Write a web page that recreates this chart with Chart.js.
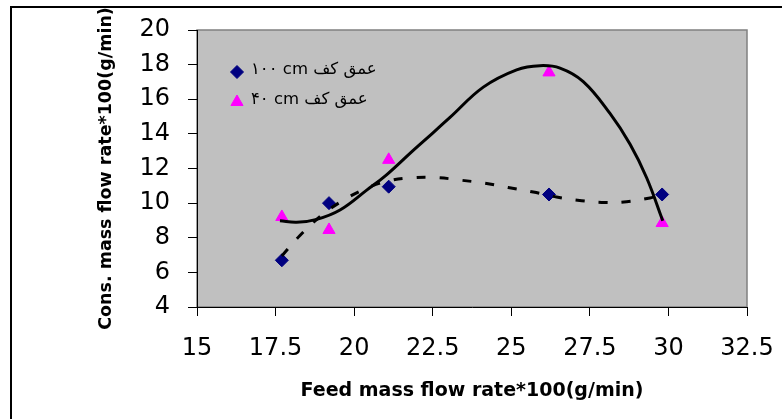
<!DOCTYPE html>
<html>
<head>
<meta charset="utf-8">
<script src="https://cdn.jsdelivr.net/npm/chart.js@4/dist/chart.umd.min.js"></script>
<style>
body { margin: 0; background: #fff; }
</style>
</head>
<body>
<canvas id="flow" width="782" height="419"></canvas>
<script>
/* Dane pomiarowe */
var feedRate = [17.7, 19.2, 21.1, 26.2, 29.8];
var cons100 = [6.7, 10.0, 10.95, 10.5, 10.5];
var cons40 = [9.2, 8.45, 12.5, 17.55, 8.85];

var label100 = '۱۰۰ cm عمق کف';
var label40 = '۴۰ cm عمق کف';
var xTitle = 'Feed mass flow rate*100(g/min)';
var yTitle = 'Cons. mass flow rate*100(g/min)';

/* Linie trendu */
var trend40X = [17.64, 18.17, 18.81, 19.55, 20.4, 21.04, 21.88, 22.5, 23.05, 24.11, 25.17, 25.91, 26.55, 27.29, 28.14, 28.78, 29.31, 29.82];
var trend40Y = [8.98, 8.89, 9.06, 9.6, 10.75, 11.65, 13.05, 14.05, 14.95, 16.7, 17.7, 17.94, 17.8, 17.02, 15.18, 13.4, 11.45, 8.98];
var trend100X = [17.7, 18.26, 18.9, 19.55, 20.32, 21.09, 21.88, 22.65, 23.37, 24.16, 24.9, 25.7, 26.44, 27.24, 27.98, 28.67, 29.41, 29.8];
var trend100Y = [6.95, 8.1, 9.2, 10.05, 10.8, 11.28, 11.47, 11.47, 11.33, 11.15, 10.9, 10.64, 10.35, 10.14, 10.04, 10.08, 10.3, 10.5];

function pts(xs, ys) {
    return xs.map(function (x, i) { return { x: x, y: ys[i] }; });
}

var font = 'DejaVu Sans';

/* Tło wykresu i ramka */
var plotBox = {
    id: 'plotBox',
    beforeDraw: function (chart) {
        var c = chart.ctx, a = chart.chartArea;
        c.save();
        c.lineWidth = 2;
        c.strokeStyle = '#000';
        c.strokeRect(11, 7, 800, 450);
        c.fillStyle = '#c0c0c0';
        c.fillRect(a.left, a.top, a.right - a.left, a.bottom - a.top);
        c.lineWidth = 1.5;
        c.strokeStyle = '#808080';
        c.strokeRect(a.left, a.top, a.right - a.left, a.bottom - a.top);
        c.restore();
    }
};

/* Legenda wewnątrz obszaru wykresu */
var innerLegend = {
    id: 'innerLegend',
    afterDatasetsDraw: function (chart) {
        var c = chart.ctx, a = chart.chartArea;
        var items = chart.data.datasets.filter(function (d) { return d.inLegend; });
        c.save();
        items.forEach(function (d, i) {
            var y = a.top + 42 + i * 30;
            c.fillStyle = d.backgroundColor;
            c.strokeStyle = d.borderColor;
            c.lineWidth = 1;
            Chart.helpers.drawPoint(c, { pointStyle: d.pointStyle, radius: d.pointRadius, rotation: 0, borderWidth: 1 }, a.left + 40, y);
            c.fillStyle = '#000';
            c.font = '16.5px "' + font + '"';
            c.textBaseline = 'middle';
            c.textAlign = 'left';
            c.fillText(d.label, a.left + 54, y - 2);
        });
        c.restore();
    }
};

var chartFlow = new Chart(document.getElementById('flow'), {
    type: 'scatter',
    data: {
        datasets: [
            {
                label: 'trend 40',
                data: pts(trend40X, trend40Y),
                showLine: true,
                borderColor: '#000',
                borderWidth: 3,
                pointRadius: 0,
                tension: 0.4,
                order: 0
            },
            {
                label: 'trend 100',
                data: pts(trend100X, trend100Y),
                showLine: true,
                borderColor: '#000',
                borderWidth: 3,
                borderDash: [9, 14],
                pointRadius: 0,
                tension: 0.4,
                order: 0
            },
            {
                label: label100,
                inLegend: true,
                data: pts(feedRate, cons100),
                pointStyle: 'rectRot',
                pointRadius: 6.5,
                backgroundColor: '#000080',
                borderColor: '#000080',
                borderWidth: 1,
                order: 1
            },
            {
                label: label40,
                inLegend: true,
                data: pts(feedRate, cons40),
                pointStyle: 'triangle',
                pointRadius: 7,
                backgroundColor: '#ff00ff',
                borderColor: '#ff00ff',
                borderWidth: 1,
                order: 1
            }
        ]
    },
    options: {
        responsive: false,
        maintainAspectRatio: false,
        animation: false,
        layout: { padding: { left: 0, top: 30, right: 35, bottom: 0 } },
        plugins: {
            legend: { display: false },
            tooltip: { enabled: false }
        },
        scales: {
            x: {
                type: 'linear',
                min: 15,
                max: 32.5,
                ticks: { stepSize: 2.5, autoSkip: false, maxRotation: 0, padding: 18, color: '#000', font: { family: font, size: 24 } },
                grid: { drawOnChartArea: false, tickLength: 9, color: '#000' },
                border: { color: '#000', width: 1 },
                title: { display: true, text: xTitle, color: '#000', font: { family: font, size: 19, weight: 'bold' }, padding: { top: 0, bottom: 17 } },
                afterFit: function (s) { s.height = 112; s.paddingLeft = 0; s.paddingRight = 0; }
            },
            y: {
                min: 4,
                max: 20,
                ticks: { stepSize: 2, padding: 18, color: '#000', font: { family: font, size: 24 } },
                grid: { drawOnChartArea: false, tickLength: 9, color: '#000' },
                border: { color: '#000', width: 1 },
                title: { display: true, text: yTitle, color: '#000', font: { family: font, size: 17.5, weight: 'bold' }, padding: { top: 96, bottom: 0 } },
                afterFit: function (s) { s.width = 197; s.paddingTop = 0; s.paddingBottom = 0; }
            }
        }
    },
    plugins: [plotBox, innerLegend]
});
</script>
</body>
</html>
